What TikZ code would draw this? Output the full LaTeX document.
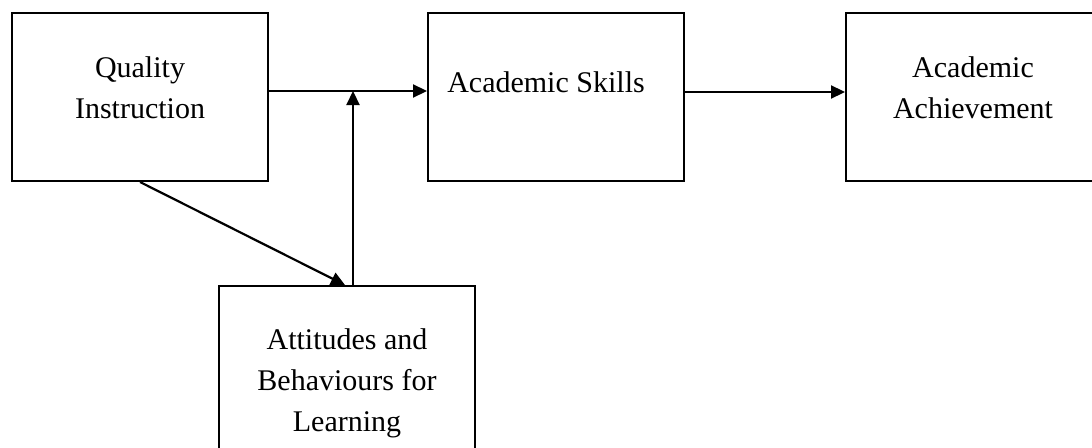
\documentclass[tikz,border=0pt]{standalone}
\usepackage{fontspec}
\setmainfont{Liberation Serif}
\usetikzlibrary{arrows.meta}
\tikzset{
  box/.style={draw, line width=2pt, minimum width=256pt, minimum height=168pt, inner sep=0pt},
  lbl/.style={align=center, inner sep=0pt, font=\fontsize{30}{41}\selectfont},
  arr/.style={line width=2.2pt, -{Triangle[length=14pt,width=13pt]}}
}
\begin{document}
\begin{tikzpicture}[x=1pt, y=-1pt]
\useasboundingbox (0,0) rectangle (1092,447);
\clip (0,0) rectangle (1092,447);
% boxes
\node[box] (qi) at (140,97) {};
\node[box] (as) at (556,97) {};
\node[box] (aa) at (974,97) {};
\node[box] (ab) at (347,370) {};
% texts
\node[lbl] (qit) at (140,88) {Quality\\Instruction};
\node[lbl] (ast) at (546,82) {Academic Skills};
\node[lbl] (aat) at (973,88) {Academic\\Achievement};
\node[lbl] (abt) at (347,383) {Attitudes and\\Behaviours for\\Learning};
% arrows
\coordinate (mid) at (353,91);
\draw[arr] ([yshift=6pt]qi.east) -- ([yshift=6pt]as.west);
\draw[arr] ([yshift=5pt]as.east) -- ([yshift=5pt]aa.west);
\draw[arr] (qi.south) -- ([xshift=-2pt]ab.north);
\draw[arr] ([xshift=6pt]ab.north) -- (mid);
\end{tikzpicture}
\end{document}
